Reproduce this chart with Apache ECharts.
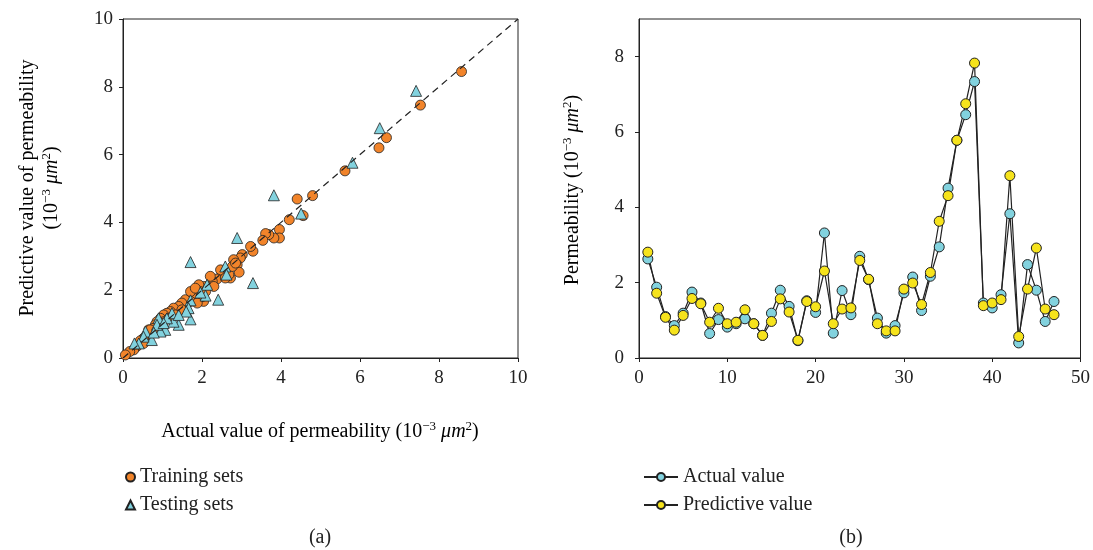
<!DOCTYPE html>
<html>
<head>
    <meta charset="utf-8">
    <title>Permeability prediction</title>
    <script src="https://cdn.jsdelivr.net/npm/echarts@6/dist/echarts.min.js"></script>
</head>
<body style="margin:0;background:#fff;">
    <div id="main" style="width: 1093px;height:550px;"></div>
    <script type="text/javascript">
        // (a) training / testing sets: actual vs predictive value
        var trainActual = [8.57, 7.53, 6.67, 6.48, 5.62, 4.80, 4.41, 4.56, 4.21, 3.96, 3.96, 3.82, 3.69, 3.61, 3.54,
            3.29, 3.23, 3.02, 2.97, 2.89, 2.94, 2.80, 2.72, 2.68, 2.51, 2.47, 2.38, 2.26, 2.21, 2.13, 2.04, 1.92,
            1.96, 2.04, 2.00, 1.79, 1.75, 1.71, 1.62, 1.58, 1.49, 1.41, 1.37, 1.28, 1.20, 1.11, 1.03, 0.95, 0.86,
            0.82, 0.78, 0.65, 0.61, 0.52, 0.44, 0.35, 0.27, 0.17, 0.06, 1.71, 1.83, 1.49, 1.33, 1.16, 1.03, 0.69,
            0.52, 0.95, 1.88, 2.09, 2.30, 2.59, 2.77, 2.85];
        var trainPred = [8.45, 7.46, 6.50, 6.20, 5.52, 4.79, 4.69, 4.20, 4.08, 3.79, 3.54, 3.54, 3.64, 3.67, 3.47,
            3.15, 3.29, 3.05, 2.95, 2.75, 2.53, 2.90, 2.36, 2.46, 2.50, 2.60, 2.33, 2.26, 2.41, 2.11, 2.11, 2.16,
            1.96, 1.67, 1.81, 1.91, 1.81, 1.67, 1.62, 1.72, 1.62, 1.52, 1.37, 1.47, 1.37, 1.32, 1.27, 1.17, 1.07,
            0.98, 0.88, 0.83, 0.68, 0.58, 0.51, 0.34, 0.24, 0.19, 0.09, 1.96, 2.06, 1.42, 1.27, 1.17, 1.07, 0.83,
            0.43, 1.03, 1.62, 1.96, 2.11, 2.36, 2.70, 2.80];
        var testActual = [7.42, 6.50, 5.81, 3.82, 4.51, 2.89, 1.71, 3.29, 2.41, 2.59, 2.62, 2.13, 2.09, 1.96, 1.71,
            1.66, 1.71, 1.60, 1.41, 1.28, 1.24, 1.11, 1.07, 0.95, 0.90, 0.86, 0.73, 0.57, 0.52, 0.40, 0.29, 1.41,
            1.03, 0.78];
        var testPred = [7.88, 6.78, 5.76, 4.80, 4.26, 3.54, 2.83, 2.21, 1.72, 2.70, 2.46, 2.16, 1.84, 1.93, 1.70,
            1.47, 1.14, 1.37, 0.98, 1.07, 1.32, 1.17, 0.83, 0.78, 1.17, 0.98, 0.53, 0.78, 0.63, 0.43, 0.43, 1.27,
            1.03, 0.75];

        // (b) sample by sample comparison
        var actualValue = [2.63, 1.88, 1.10, 0.86, 1.19, 1.75, 1.46, 0.65, 1.02, 0.82, 0.91, 1.04, 0.91, 0.60, 1.19,
            1.80, 1.37, 0.46, 1.52, 1.21, 3.32, 0.66, 1.79, 1.15, 2.70, 2.08, 1.06, 0.66, 0.86, 1.73, 2.15, 1.26,
            2.17, 2.95, 4.51, 5.78, 6.46, 7.34, 1.46, 1.33, 1.68, 3.83, 0.40, 2.48, 1.80, 0.97, 1.50];
        var predictiveValue = [2.81, 1.72, 1.08, 0.74, 1.13, 1.58, 1.44, 0.95, 1.32, 0.91, 0.95, 1.28, 0.91, 0.60, 0.97,
            1.57, 1.22, 0.47, 1.50, 1.36, 2.31, 0.91, 1.30, 1.33, 2.59, 2.09, 0.91, 0.72, 0.72, 1.83, 1.99, 1.42,
            2.27, 3.63, 4.31, 5.78, 6.75, 7.83, 1.39, 1.46, 1.55, 4.84, 0.57, 1.83, 2.92, 1.30, 1.15];

        var ticksB = [0, 2, 4, 6, 8];

        var font = 'Liberation Serif';
        var orange = '#f2842a';
        var cyan = '#82d2de';
        var yellow = '#f6e31c';

        function pairs(xs, ys) {
            return xs.map(function (x, i) { return [x, ys[i]]; });
        }
        var sampleData = function (vals) {
            return vals.map(function (v, i) { return [i + 1, v]; });
        };

        var rich = {
            t: { fontFamily: font, fontSize: 20, color: '#222', lineHeight: 24 },
            s: { fontFamily: font, fontSize: 13, color: '#222', lineHeight: 24, verticalAlign: 'top' },
            i: { fontFamily: font, fontSize: 20, color: '#222', fontStyle: 'italic', lineHeight: 24 }
        };
        var unit = '{t|(10}{s|−3}{t| }{i|μm}{s|2}{t|)}';

        function axisCommon() {
            return {
                axisLine: { lineStyle: { color: '#222', width: 1 } },
                axisTick: { inside: false, length: 4, lineStyle: { color: '#222' } },
                axisLabel: { fontFamily: font, fontSize: 19, color: '#222' },
                splitLine: { show: false }
            };
        }

        var myChart = echarts.init(document.getElementById('main'));

        var xa = axisCommon();
        var ya = axisCommon();
        var xb = axisCommon();
        var yb = axisCommon();

        var option = {
            animation: false,
            backgroundColor: '#fff',
            grid: [
                { left: 123, top: 19, width: 395, height: 339, show: true, borderColor: '#222', borderWidth: 1, backgroundColor: 'transparent' },
                { left: 639, top: 19, width: 444, height: 339, show: true, borderColor: '#222', borderWidth: 1, backgroundColor: 'transparent' }
            ],
            xAxis: [
                Object.assign(xa, { type: 'value', gridIndex: 0, min: 0, max: 10, interval: 2,
                    axisLabel: Object.assign(xa.axisLabel, { margin: 11 }) }),
                Object.assign(xb, { type: 'value', gridIndex: 1, min: 0, max: 50, interval: 10,
                    axisLabel: Object.assign(xb.axisLabel, { margin: 11 }) })
            ],
            yAxis: [
                Object.assign(ya, { type: 'value', gridIndex: 0, min: 0, max: 10, interval: 2,
                    axisLabel: Object.assign(ya.axisLabel, { margin: 10 }) }),
                Object.assign(yb, { type: 'value', gridIndex: 1, min: 0, max: 9, interval: 2,
                    axisTick: Object.assign(yb.axisTick, { customValues: ticksB }),
                    axisLabel: Object.assign(yb.axisLabel, { margin: 15, customValues: ticksB }) })
            ],
            legend: [
                {
                    orient: 'vertical', left: 120, top: 461, itemWidth: 9, itemHeight: 9, itemGap: 6,
                    textStyle: { fontFamily: font, fontSize: 20, color: '#222', lineHeight: 22 },
                    data: ['Training sets', 'Testing sets']
                },
                {
                    orient: 'vertical', left: 638, top: 461, itemWidth: 34, itemHeight: 10, itemGap: 6,
                    textStyle: { fontFamily: font, fontSize: 20, color: '#222', lineHeight: 22 },
                    data: ['Actual value', 'Predictive value']
                }
            ],
            graphic: [
                { type: 'text', x: 320, y: 432, style: { text: '{t|Actual value of permeability }' + unit, rich: rich, align: 'center', verticalAlign: 'middle' } },
                { type: 'text', x: 40, y: 188, rotation: Math.PI / 2, style: { text: '{t|Predictive value of permeability}\n' + unit, rich: rich, align: 'center', verticalAlign: 'middle' } },
                { type: 'text', x: 573, y: 190, rotation: Math.PI / 2, style: { text: '{t|Permeability }' + unit, rich: rich, align: 'center', verticalAlign: 'middle' } },
                { type: 'text', x: 320, y: 538, style: { text: '(a)', fontFamily: font, fontSize: 20, fill: '#222', align: 'center', verticalAlign: 'middle' } },
                { type: 'text', x: 851, y: 538, style: { text: '(b)', fontFamily: font, fontSize: 20, fill: '#222', align: 'center', verticalAlign: 'middle' } }
            ],
            series: [
                {
                    name: 'diag', type: 'line', xAxisIndex: 0, yAxisIndex: 0, data: [[0, 0], [10, 10]],
                    symbol: 'none', silent: true,
                    lineStyle: { color: '#222', width: 1.2, type: [7, 5] }
                },
                {
                    name: 'Training sets', type: 'scatter', xAxisIndex: 0, yAxisIndex: 0,
                    data: pairs(trainActual, trainPred), symbol: 'circle', symbolSize: 10,
                    itemStyle: { color: orange, borderColor: '#222', borderWidth: 0.8, opacity: 1 }
                },
                {
                    name: 'Testing sets', type: 'scatter', xAxisIndex: 0, yAxisIndex: 0,
                    data: pairs(testActual, testPred), symbol: 'triangle', symbolSize: 11,
                    itemStyle: { color: cyan, borderColor: '#222', borderWidth: 0.8, opacity: 1 }
                },
                {
                    name: 'Actual value', type: 'line', xAxisIndex: 1, yAxisIndex: 1,
                    data: sampleData(actualValue), symbol: 'circle', symbolSize: 10, showAllSymbol: true,
                    lineStyle: { color: '#222', width: 1.2 },
                    itemStyle: { color: cyan, borderColor: '#222', borderWidth: 1 }
                },
                {
                    name: 'Predictive value', type: 'line', xAxisIndex: 1, yAxisIndex: 1,
                    data: sampleData(predictiveValue), symbol: 'circle', symbolSize: 10, showAllSymbol: true,
                    lineStyle: { color: '#222', width: 1.2 },
                    itemStyle: { color: yellow, borderColor: '#222', borderWidth: 1 }
                }
            ]
        };

        myChart.setOption(option);
    </script>
</body>
</html>
